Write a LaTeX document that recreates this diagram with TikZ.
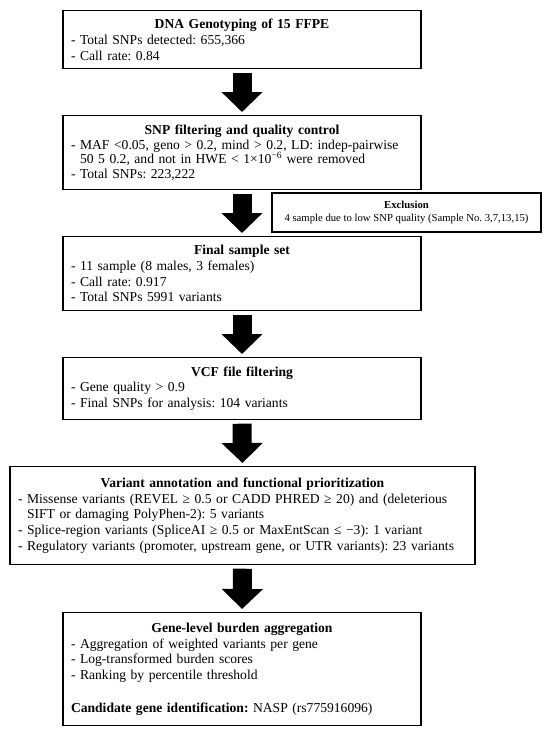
\documentclass[tikz,border=0pt]{standalone}
\usepackage{fontspec}
\setmainfont{Liberation Serif}
\usetikzlibrary{arrows.meta, positioning}
\newcommand{\stagetitle}[1]{\makebox[\linewidth]{\textbf{#1}}}
\frenchspacing

\begin{document}
\begin{tikzpicture}[x=1pt, y=-1pt,
  stagebox/.style={draw, line width=1.2pt, anchor=north, inner xsep=8pt, inner ysep=1pt,
    align=left, font=\fontsize{13.6}{15.8}\selectfont},
  exclbox/.style={draw, line width=1.2pt, align=center, inner sep=2pt,
    font=\fontsize{10.7}{13.5}\selectfont},
  flowarrow/.style={line width=19pt, -{Triangle[width=40pt, length=20pt]},
    shorten <=3.5pt, shorten >=3pt}]
  \useasboundingbox (0,0) rectangle (550,732);
  % stages of the pipeline
  \node[stagebox, text width=342pt, minimum height=58pt] (geno) at (242,10)
    {\stagetitle{DNA Genotyping of 15 FFPE}\\
     - Total SNPs detected: 655,366\\
     - Call rate: 0.84};
  \node[stagebox, text width=342pt, minimum height=74pt,
    font=\fontsize{13.6}{14.6}\selectfont] (qc) at (242,115)
    {\stagetitle{SNP filtering and quality control}\\
     - MAF <0.05, geno > 0.2, mind > 0.2, LD: indep-pairwise\\
     \phantom{- }50 5 0.2, and not in HWE < 1×10\textsuperscript{−6} were removed\\
     - Total SNPs: 223,222};
  \node[stagebox, text width=342pt, minimum height=74pt] (samples) at (242,236)
    {\stagetitle{Final sample set}\\
     - 11 sample (8 males, 3 females)\\
     - Call rate: 0.917\\
     - Total SNPs 5991 variants};
  \node[stagebox, text width=342pt, minimum height=62pt] (vcf) at (242,357)
    {\stagetitle{VCF file filtering}\\
     - Gene quality > 0.9\\
     - Final SNPs for analysis: 104 variants};
  \node[stagebox, text width=449pt, minimum height=98pt] (annot) at (242.5,466)
    {\stagetitle{Variant annotation and functional prioritization}\\
     - Missense variants (REVEL ≥ 0.5 or CADD PHRED ≥ 20) and (deleterious\\
     \phantom{- }SIFT or damaging PolyPhen-2): 5 variants\\
     - Splice-region variants (SpliceAI ≥ 0.5 or MaxEntScan ≤ −3): 1 variant\\
     - Regulatory variants (promoter, upstream gene, or UTR variants): 23 variants};
  \node[stagebox, text width=342pt, minimum height=113pt] (burden) at (242,612)
    {\stagetitle{Gene-level burden aggregation}\\
     - Aggregation of weighted variants per gene\\
     - Log-transformed burden scores\\
     - Ranking by percentile threshold\\[17pt]
     \textbf{Candidate gene identification:} NASP (rs775916096)};
  % excluded samples
  \node[exclbox, minimum width=269pt, minimum height=39pt] (excl) at (406.5,212.5)
    {\textbf{Exclusion}\\
     4 sample due to low SNP quality (Sample No. 3,7,13,15)};
  % block arrows
  \draw[flowarrow] (geno.south) -- (qc.north);
  \draw[flowarrow] (qc.south) -- (samples.north);
  \draw[flowarrow] (samples.south) -- (vcf.north);
  \draw[flowarrow] (vcf.south) -- (annot.north);
  \draw[flowarrow] (annot.south) -- (burden.north);
\end{tikzpicture}
\end{document}
